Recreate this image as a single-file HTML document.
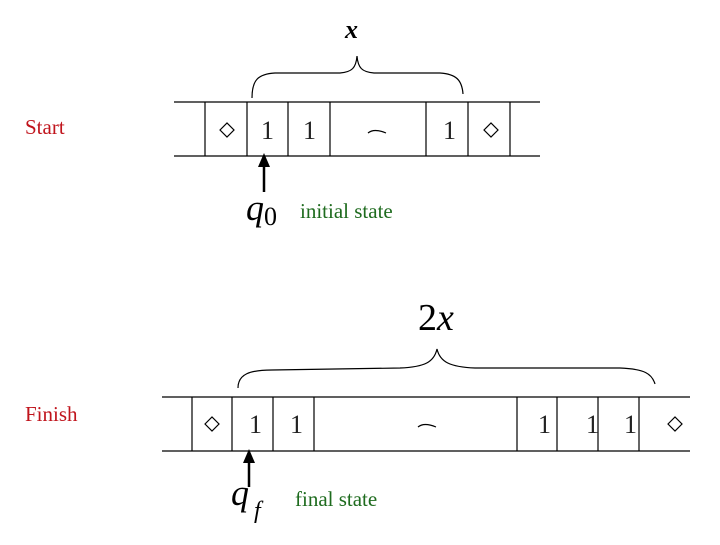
<!DOCTYPE html>
<html><head><style>body{margin:0;background:#fff} svg text{font-family:"Liberation Serif","DejaVu Serif",serif}</style></head><body>
<svg width="720" height="540" viewBox="0 0 720 540" xmlns="http://www.w3.org/2000/svg">
<rect width="720" height="540" fill="#fff"/>
<text x="25" y="134" font-size="21" fill="#c0141c">Start</text>
<text x="25" y="421" font-size="21" fill="#c0141c">Finish</text>
<g stroke="#000" stroke-width="1.2" fill="none">
<line x1="174" y1="102" x2="540" y2="102"/><line x1="174" y1="156" x2="540" y2="156"/>
<line x1="205" y1="102" x2="205" y2="156"/><line x1="247" y1="102" x2="247" y2="156"/>
<line x1="288" y1="102" x2="288" y2="156"/><line x1="330" y1="102" x2="330" y2="156"/>
<line x1="426" y1="102" x2="426" y2="156"/><line x1="468" y1="102" x2="468" y2="156"/>
<line x1="510" y1="102" x2="510" y2="156"/>
<path d="M252 98 C252 80 258 74 275 73 L340 73 C352 72 356 68 357 56 C358 68 362 72 374 73 L440 73 C456 74 462 80 463 94"/>
<path d="M220 130 L227 123 L234 130 L227 137 Z"/><path d="M484 130 L491 123 L498 130 L491 137 Z"/>
<path d="M368 133 Q374 128 386 133"/>
<line x1="264" y1="192" x2="264" y2="166" stroke-width="2.5"/>
<line x1="162" y1="397" x2="690" y2="397"/><line x1="162" y1="451" x2="690" y2="451"/>
<line x1="192" y1="397" x2="192" y2="451"/><line x1="232" y1="397" x2="232" y2="451"/>
<line x1="273" y1="397" x2="273" y2="451"/><line x1="314" y1="397" x2="314" y2="451"/>
<line x1="517" y1="397" x2="517" y2="451"/><line x1="557" y1="397" x2="557" y2="451"/>
<line x1="598" y1="397" x2="598" y2="451"/><line x1="639" y1="397" x2="639" y2="451"/>
<path d="M238 388 C238 374 250 370 272 370 L400 368 C425 367 434 362 437 349 C440 362 450 367 475 368 L620 368 C645 369 652 374 655 384"/>
<path d="M205 424 L212 417 L219 424 L212 431 Z"/><path d="M668 424 L675 417 L682 424 L675 431 Z"/>
<path d="M418 427 Q424 422 436 427"/>
<line x1="249" y1="487" x2="249" y2="462" stroke-width="2.5"/>
</g>
<path d="M258 167 L264 153 L270 167 Z"/><path d="M243 463 L249 449 L255 463 Z"/>
<g font-size="26" fill="#222">
<text x="261" y="139">1</text><text x="303" y="139">1</text><text x="443" y="139">1</text>
<text x="249" y="433">1</text><text x="290" y="433">1</text><text x="538" y="433">1</text><text x="586" y="433">1</text><text x="624" y="433">1</text>
</g>
<text x="345" y="38" font-size="26" font-style="italic" font-weight="bold">x</text>
<text x="418" y="330" font-size="38"><tspan>2</tspan><tspan font-style="italic">x</tspan></text>
<text x="246" y="220" font-size="36" font-style="italic">q</text><text x="264" y="225" font-size="26">0</text>
<text x="231" y="505" font-size="36" font-style="italic">q</text><text x="254" y="518" font-size="24" font-style="italic">f</text>
<text x="300" y="218" font-size="21" fill="#1e6b1e">initial state</text>
<text x="295" y="506" font-size="21" fill="#1e6b1e">final state</text>
</svg>
</body></html>
